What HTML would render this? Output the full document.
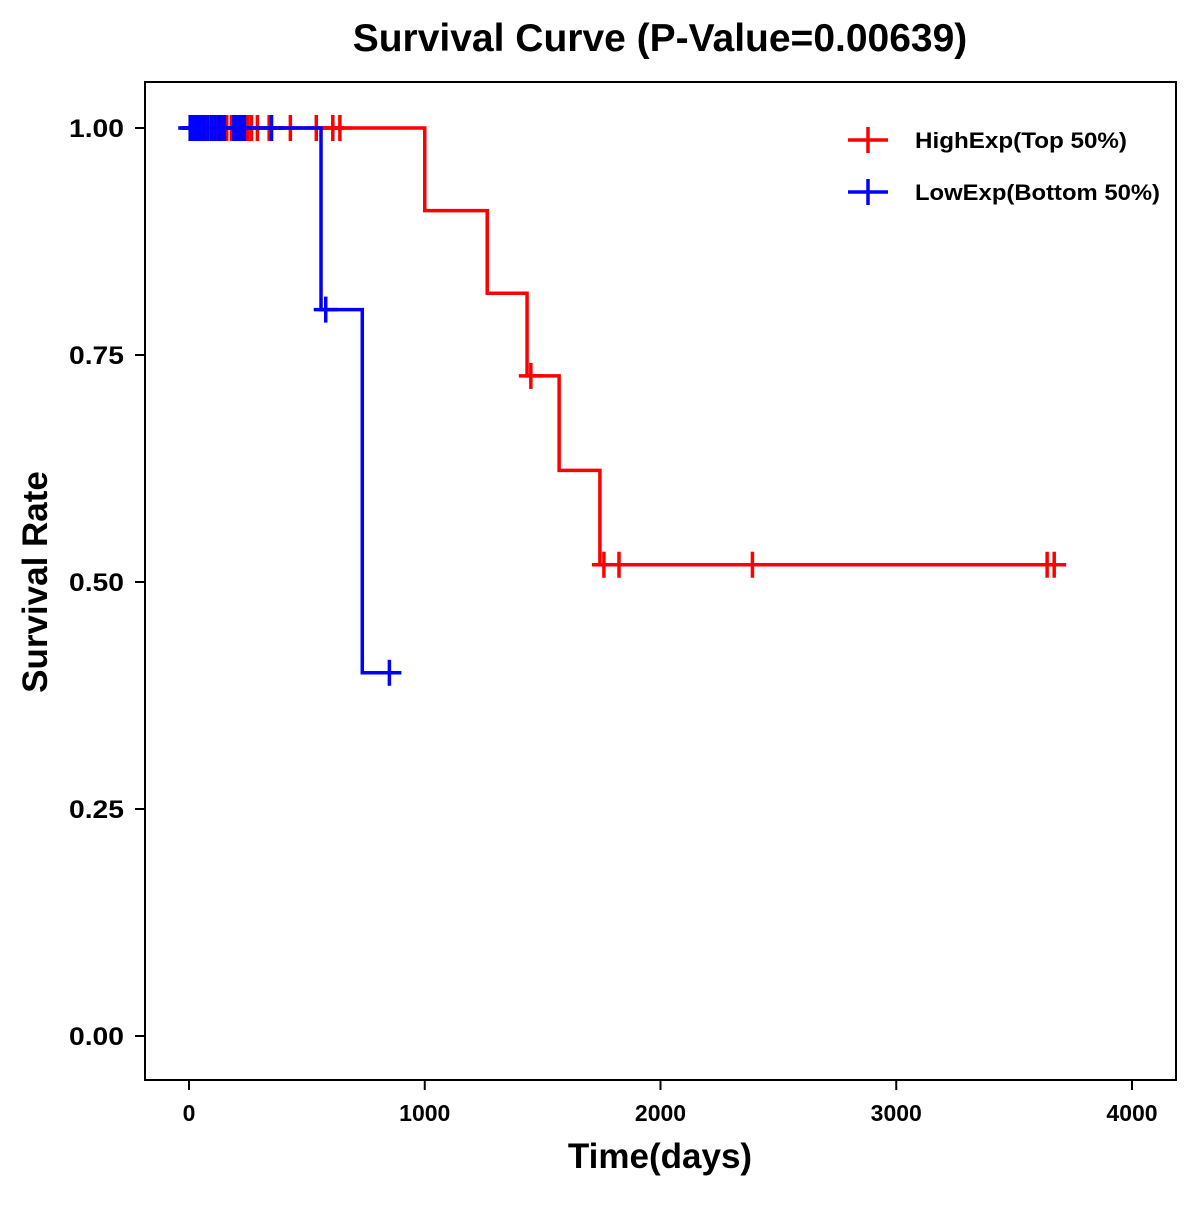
<!DOCTYPE html>
<html><head><meta charset="utf-8"><style>
body{margin:0;background:#fff}
svg text{font-family:"Liberation Sans",Arial,sans-serif;font-weight:bold}
</style></head><body>
<svg id="chart" width="1200" height="1200">
<rect x="0" y="0" width="1200" height="1200" fill="#fff"/>
<text x="660" y="51" font-size="39" text-anchor="middle">Survival Curve (P-Value=0.00639)</text>
<rect x="145" y="82" width="1031" height="998" fill="none" stroke="#000" stroke-width="2"/>
<g id="axes"></g>
<g id="series"></g>
<text x="660" y="1168" font-size="35" text-anchor="middle">Time(days)</text>
<text transform="translate(47,582) rotate(-90)" font-size="35" text-anchor="middle">Survival Rate</text>
<g>
<g>
<line x1="848" y1="140" x2="888" y2="140" stroke="#f00" stroke-width="3.5"/><line x1="868" y1="127" x2="868" y2="153" stroke="#f00" stroke-width="3.5"/>
<text x="915" y="148" font-size="22" textLength="212" lengthAdjust="spacingAndGlyphs">HighExp(Top 50%)</text></g>
<g>
<line x1="848" y1="192" x2="888" y2="192" stroke="#00f" stroke-width="3.5"/><line x1="868" y1="179" x2="868" y2="205" stroke="#00f" stroke-width="3.5"/>
<text x="915" y="200" font-size="22" textLength="245" lengthAdjust="spacingAndGlyphs">LowExp(Bottom 50%)</text></g>
</g>
</svg>
<script>
const xTicks=[0,1000,2000,3000,4000];
const yTicks=[0,0.25,0.5,0.75,1.0];
const yTickLabels=["0.00","0.25","0.50","0.75","1.00"];
const highTimes=[0,1000,1265,1434,1570,1743,3700];
const highSurv=[1,0.909,0.818,0.727,0.623,0.519,0.519];
const highCensor=[10,20,30,45,60,80,100,120,140,160,180,200,215,240,250,265,290,340,430,540,610,640,1450,1760,1824,2390,3640,3670];
const lowTimes=[0,560,735,890];
const lowSurv=[1,0.8,0.4,0.4];
const lowCensor=[5,15,25,35,45,55,65,80,95,110,125,135,150,190,205,215,225,235,350,580,850];
const NS="http://www.w3.org/2000/svg";
const X=d=>189+d*0.23575;
const Y=v=>1036-v*908;
function mk(t,a,p){const e=document.createElementNS(NS,t);for(const k in a)e.setAttribute(k,a[k]);p.appendChild(e);return e;}
const ax=document.getElementById('axes');
xTicks.forEach((t,i)=>{
 const l=mk('line',{x1:X(t),x2:X(t),y1:1080,y2:1090,stroke:'#000','stroke-width':2},ax);
 
 
 const tx=mk('text',{x:X(t),y:1121,'font-size':23,'text-anchor':'middle'},ax);tx.textContent=t;
 
 
});
yTicks.forEach((t,i)=>{
 const l=mk('line',{x1:135,x2:145,y1:Y(t),y2:Y(t),stroke:'#000','stroke-width':2},ax);
 
 
 const tx=mk('text',{x:124,y:Y(t)+9,'font-size':25,'text-anchor':'end',textLength:55,lengthAdjust:'spacingAndGlyphs'},ax);tx.textContent=yTickLabels[i];
 
 
});
const sg=document.getElementById('series');
function survAt(times,surv,t){let s=surv[0];for(let i=0;i<times.length;i++){if(times[i]<=t)s=surv[i];}return s;}
function draw(times,surv,cens,col,name){
 let d='M'+X(times[0])+','+Y(surv[0]);
 for(let i=1;i<times.length;i++){d+=' H'+X(times[i])+' V'+Y(surv[i]);}
 const p=mk('path',{d:d,fill:'none',stroke:col,'stroke-width':3.5},sg);
 
 
 cens.forEach(c=>{
  const s=survAt(times,surv,c);
  const g=mk('g',{},sg);
  
  
  mk('line',{x1:X(c)-12,x2:X(c)+12,y1:Y(s),y2:Y(s),stroke:col,'stroke-width':3.5},g);
  mk('line',{x1:X(c),x2:X(c),y1:Y(s)-13,y2:Y(s)+13,stroke:col,'stroke-width':3.5},g);
 });
}
draw(highTimes,highSurv,highCensor,'#f00','high-exp');
draw(lowTimes,lowSurv,lowCensor,'#00f','low-exp');
</script>
</body></html>
